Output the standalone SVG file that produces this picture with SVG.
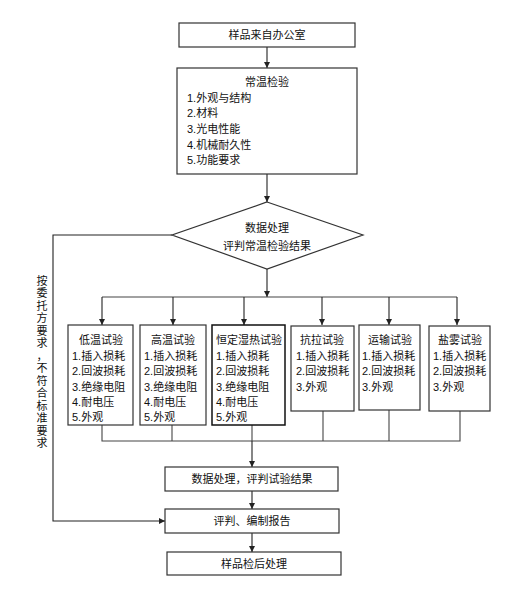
<svg xmlns="http://www.w3.org/2000/svg" width="527" height="593" viewBox="0 0 527 593">
<defs>
<marker id="ar" viewBox="0 0 6 6" refX="6" refY="3" markerWidth="6" markerHeight="6" orient="auto" markerUnits="userSpaceOnUse">
<path d="M0,0 L6,3 L0,6 z" fill="#222"/>
</marker>
<style>
.b{fill:#fff;stroke:#333;stroke-width:1.2}
.t{font-family:"Liberation Sans","Noto Sans CJK SC",sans-serif;font-size:11px;fill:#111}
.c{text-anchor:middle}
.l{fill:none;stroke:#444;stroke-width:1.1}
.a{fill:none;stroke:#222;stroke-width:1.1;marker-end:url(#ar)}
</style>
</defs>
<rect width="527" height="593" fill="#fff"/>
<g id="connectors">
<path class="a" d="M267,47 V68"/>
<path class="a" d="M267,174 V202"/>
<path class="a" d="M267,269 V297"/>
<path class="l" d="M102,297 H457"/>
<path class="a" d="M102,297 V325"/>
<path class="a" d="M173,297 V325"/>
<path class="a" d="M244,297 V325"/>
<path class="a" d="M322,297 V325"/>
<path class="a" d="M389,297 V325"/>
<path class="a" d="M457,297 V325"/>
<path class="l" d="M102,425 V441 H460 V411"/>
<path class="l" d="M172,425 V441"/>
<path class="l" d="M252,425 V441"/>
<path class="l" d="M323,411 V441"/>
<path class="l" d="M389,410 V441"/>
<path class="a" d="M252,441 V467"/>
<path class="a" d="M252,491 V509"/>
<path class="a" d="M252,533 V552"/>
<path class="a" d="M172,235 H53 V521 H165"/>
</g>
<g id="n1"><rect class="b" x="179" y="23" width="176" height="24"/><text class="t c" x="267" y="39">样品来自办公室</text></g>
<g id="n2"><rect class="b" x="177" y="68" width="180" height="106"/>
<text class="t c" x="267" y="86">常温检验</text>
<text class="t" x="187" y="102">1.外观与结构</text>
<text class="t" x="187" y="117">2.材料</text>
<text class="t" x="187" y="133">3.光电性能</text>
<text class="t" x="187" y="149">4.机械耐久性</text>
<text class="t" x="187" y="164">5.功能要求</text></g>
<g id="n3"><polygon class="b" points="267,202 363,235 267,269 172,235"/>
<text class="t c" x="267" y="232">数据处理</text>
<text class="t c" x="267" y="250">评判常温检验结果</text></g>
<g id="n4"><rect class="b" x="68" y="325" width="65" height="100"/>
<text class="t c" x="101" y="344">低温试验</text>
<text class="t" x="72" y="360">1.插入损耗</text>
<text class="t" x="72" y="375">2.回波损耗</text>
<text class="t" x="72" y="391">3.绝缘电阻</text>
<text class="t" x="72" y="406">4.耐电压</text>
<text class="t" x="72" y="421">5.外观</text></g>
<g id="n5"><rect class="b" x="140" y="325" width="66" height="100"/>
<text class="t c" x="173" y="344">高温试验</text>
<text class="t" x="144" y="360">1.插入损耗</text>
<text class="t" x="144" y="375">2.回波损耗</text>
<text class="t" x="144" y="391">3.绝缘电阻</text>
<text class="t" x="144" y="406">4.耐电压</text>
<text class="t" x="144" y="421">5.外观</text></g>
<g id="n6"><rect class="b" x="212" y="325" width="73" height="100" style="stroke:#111;stroke-width:1.5"/>
<text class="t" x="216" y="344">恒定湿热试验</text>
<text class="t" x="216" y="360">1.插入损耗</text>
<text class="t" x="216" y="375">2.回波损耗</text>
<text class="t" x="216" y="391">3.绝缘电阻</text>
<text class="t" x="216" y="406">4.耐电压</text>
<text class="t" x="216" y="421">5.外观</text></g>
<g id="n7"><rect class="b" x="291" y="326" width="63" height="85"/>
<text class="t c" x="322" y="344">抗拉试验</text>
<text class="t" x="296" y="360">1.插入损耗</text>
<text class="t" x="296" y="375">2.回波损耗</text>
<text class="t" x="296" y="391">3.外观</text></g>
<g id="n8"><rect class="b" x="359" y="325" width="61" height="85"/>
<text class="t c" x="390" y="344">运输试验</text>
<text class="t" x="362" y="360">1.插入损耗</text>
<text class="t" x="362" y="375">2.回波损耗</text>
<text class="t" x="362" y="391">3.外观</text></g>
<g id="n9"><rect class="b" x="429" y="326" width="61" height="85"/>
<text class="t c" x="460" y="344">盐雾试验</text>
<text class="t" x="433" y="360">1.插入损耗</text>
<text class="t" x="433" y="375">2.回波损耗</text>
<text class="t" x="433" y="391">3.外观</text></g>
<g id="n10"><rect class="b" x="165" y="467" width="173" height="24"/><text class="t c" x="252" y="483">数据处理，评判试验结果</text></g>
<g id="n11"><rect class="b" x="165" y="509" width="174" height="24"/><text class="t c" x="252" y="525">评判、编制报告</text></g>
<g id="n12"><rect class="b" x="167" y="552" width="174" height="23"/><text class="t c" x="254" y="568">样品检后处理</text></g>
<g id="label"><text class="t c" x="42" y="272">
<tspan x="42" dy="12.5">按</tspan><tspan x="42" dy="12.5">委</tspan><tspan x="42" dy="12.5">托</tspan><tspan x="42" dy="12.5">方</tspan><tspan x="42" dy="12.5">要</tspan><tspan x="42" dy="12.5">求</tspan><tspan x="42" dy="12.5">，</tspan><tspan x="42" dy="12.5">不</tspan><tspan x="42" dy="12.5">符</tspan><tspan x="42" dy="12.5">合</tspan><tspan x="42" dy="12.5">标</tspan><tspan x="42" dy="12.5">准</tspan><tspan x="42" dy="12.5">要</tspan><tspan x="42" dy="12.5">求</tspan>
</text></g>
</svg>
